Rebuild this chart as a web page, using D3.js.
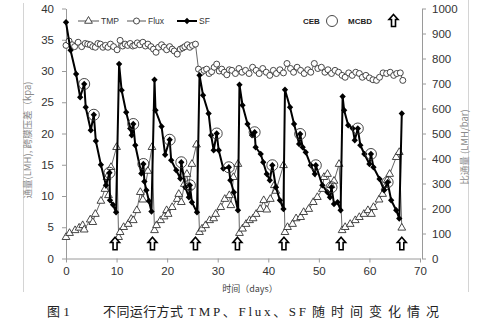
<!DOCTYPE html>
<html><head><meta charset="utf-8">
<script src="https://cdn.jsdelivr.net/npm/d3@7"></script>
<style>body{margin:0;background:#fff}svg{display:block}</style>
</head><body><svg id="c" width="491" height="322"></svg>
<script>
// ---------- DATA ----------
const xTicks = [0,10,20,30,40,50,60,70];
const yLeftTicks = [0,5,10,15,20,25,30,35,40];
const yRightTicks = [0,100,200,300,400,500,600,700,800,900,1000];

// TMP (kpa, left axis)
const tmpDays = [0.0,0.7,1.8,2.6,3.3,3.6,4.8,5.3,5.8,6.9,7.7,8.1,8.4,8.9,10.0,
 10.4,10.7,11.4,12.3,12.9,13.3,14.0,14.7,15.2,16.2,17.0,
 17.5,17.9,18.7,19.4,19.9,20.2,21.0,22.0,22.3,22.8,23.4,23.9,24.2,24.9,25.8,
 26.4,26.9,27.6,28.4,29.2,29.6,30.6,31.4,32.3,32.6,33.1,34.0,
 34.3,34.9,35.6,36.3,37.0,37.6,38.4,39.1,39.7,40.4,41.2,41.5,43.0,
 43.3,43.8,44.8,45.5,46.4,47.0,48.0,48.9,49.7,50.7,51.0,51.7,52.4,53.0,54.0,
 54.6,55.2,56.2,57.2,58.0,58.9,59.7,60.4,60.8,61.9,62.6,63.1,63.5,64.0,65.3,65.9,66.4];
const tmpValues = [3.4,4.05,4.5,4.9,5.3,4.6,6.2,5.8,7.1,9.2,11.1,13.0,10.1,14.6,17.8,
 3.4,4.2,5.0,5.5,6.3,6.1,7.7,10.6,9.4,14.0,17.8,
 4.5,5.3,6.1,6.7,7.7,7.1,8.2,9.5,10.3,9.0,11.9,13.5,11.4,15.1,18.2,
 4.2,4.75,5.3,6.1,6.4,7.1,8.2,9.5,10.1,8.5,13.0,15.1,
 4.05,4.75,5.5,6.1,6.4,7.1,7.9,9.3,7.8,9.5,11.7,10.8,14.9,
 4.2,5.0,5.5,6.4,6.6,7.4,7.9,9.0,9.8,11.1,13.0,13.5,11.7,12.4,15.1,
 4.5,5.0,5.5,6.1,6.6,7.1,7.7,7.1,8.2,9.4,10.3,11.4,12.5,13.5,16.2,17.0,4.9];

// Flux (LMH, left axis)
const fluxDays = [0.0,0.6,1.2,1.7,2.4,3.1,3.8,4.3,4.8,5.3,5.8,6.3,6.8,7.3,7.8,8.3,8.8,9.4,10.1,
 10.7,11.2,11.7,12.2,12.7,13.2,13.6,14.1,14.6,15.2,15.7,16.2,16.8,17.3,17.8,18.3,18.9,19.4,19.9,
 20.5,21.0,21.4,22.0,22.6,23.1,23.5,24.0,24.5,25.0,25.6,
 26.2,26.8,27.3,27.8,28.3,28.8,29.3,29.8,30.3,30.8,31.3,31.8,32.3,
 32.8,33.5,34.2,34.8,35.5,36.2,36.9,37.6,38.2,38.9,39.6,40.3,41.0,41.6,42.3,43.0,43.7,44.4,
 45.0,45.7,46.4,47.1,47.8,48.4,49.1,49.8,50.5,51.2,51.8,52.5,53.2,53.9,54.6,55.2,55.9,56.6,
 57.3,58.0,58.6,59.3,60.0,60.7,61.4,62.0,62.7,63.4,64.1,64.8,65.4,66.1,66.6];
const fluxValues = [34.1,34.8,34.2,33.9,34.6,33.9,34.4,34.3,34.2,33.9,33.8,34.4,34.3,33.8,34.1,33.8,34.3,33.9,33.4,
 34.9,34.0,34.3,34.1,34.4,34.0,34.1,34.5,34.2,34.6,34.0,34.3,33.9,33.5,33.0,33.8,34.2,33.8,33.4,
 33.9,33.5,33.2,32.7,33.5,33.7,33.9,34.2,33.8,34.1,34.3,
 30.3,29.8,30.1,30.3,29.6,29.9,30.6,31.1,30.0,30.3,29.8,29.4,30.2,
 30.1,29.6,30.4,29.8,30.1,29.6,30.6,30.1,29.6,30.4,29.8,29.3,30.1,29.6,30.2,29.7,31.2,30.4,
 29.8,30.6,30.1,29.6,30.2,29.8,31.2,30.4,30.6,29.8,30.2,29.6,30.1,29.8,29.3,29.0,29.7,29.3,
 29.8,29.6,29.0,29.3,28.9,28.6,28.5,29.0,29.7,29.6,29.8,29.3,29.6,29.7,28.5];

// SF (LMH/bar, right axis)
const sfDays = [0.0,0.9,2.0,2.8,3.6,3.9,4.9,5.5,5.9,6.9,7.9,8.6,8.7,9.3,9.9,
 10.5,11.0,11.9,12.7,13.0,13.3,13.7,14.9,15.3,15.5,15.9,16.4,16.9,
 17.5,17.7,18.9,19.6,20.5,20.8,21.8,22.6,22.8,23.6,24.3,24.5,24.9,25.9,
 26.4,27.1,28.2,28.7,29.2,29.8,30.2,31.1,32.2,32.5,33.2,34.0,
 34.3,34.9,35.9,36.8,37.3,37.5,38.5,39.0,39.7,40.3,40.8,41.5,42.3,43.0,
 43.3,44.3,45.1,46.1,46.3,46.8,47.4,48.4,49.2,49.4,50.7,51.7,52.2,52.5,53.0,53.7,54.3,
 54.7,55.0,55.8,56.7,57.1,57.7,58.2,59.0,60.0,60.3,60.8,62.0,62.9,63.6,64.3,65.3,65.9,66.4];
const sfValues = [945,833,738,645,698,605,513,575,470,375,293,343,233,215,185,
 778,673,585,520,493,538,453,340,378,308,273,230,188,
 715,593,528,415,475,393,353,320,385,285,245,293,225,185,
 733,653,580,493,433,500,433,360,365,313,265,193,
 695,613,538,493,505,445,418,385,338,313,373,285,233,198,
 675,605,538,458,498,445,425,373,338,373,293,265,245,285,218,225,193,
 648,593,533,520,473,520,453,418,378,418,365,318,273,305,233,193,160,580];

// CEB (chemically enhanced backwash) days, marked on SF
const cebDays = [3.6,5.5,8.6,13.3,15.3,20.5,22.8,24.5,29.8,32.2,37.3,40.8,46.3,49.4,52.5,57.7,60.3,63.6];
// MCBD days
const mcbdDays = [9.7,17.1,25.6,33.9,43.1,54.4,66.4];

// ---------- CHART ----------
const svg = d3.select("#c");
const x = d3.scaleLinear().domain([0,70]).range([66,420]);
const yL = d3.scaleLinear().domain([0,40]).range([258.5,8.5]);
const yR = d3.scaleLinear().domain([0,1000]).range([258.5,8.5]);
const FONT = "'Liberation Sans', Arial, sans-serif";
const axisCol = "#9a9a9a";

// frame lines
svg.append("line").attr("x1",23.5).attr("x2",23.5).attr("y1",3).attr("y2",292).attr("stroke","#d4d4d4");
svg.append("line").attr("x1",468.5).attr("x2",468.5).attr("y1",0).attr("y2",292).attr("stroke","#d4d4d4");

function styleAxis(g){
  g.selectAll(".domain").attr("stroke",axisCol);
  g.selectAll(".tick line").attr("stroke",axisCol);
  g.selectAll("text").attr("fill","#333").style("font-family",FONT).style("font-size","11.5px");
}
svg.append("g").attr("transform","translate(66,0)")
  .call(d3.axisLeft(yL).tickValues(yLeftTicks).tickSize(4).tickSizeOuter(0).tickPadding(8))
  .call(styleAxis);
svg.append("g").attr("transform","translate(422,0)")
  .call(d3.axisRight(yR).tickValues(yRightTicks).tickFormat(d3.format("d")).tickSize(4).tickSizeOuter(0).tickPadding(6))
  .call(styleAxis);
svg.append("g").attr("transform","translate(0,258.5)")
  .call(d3.axisBottom(x).tickValues(xTicks).tickSize(4).tickSizeOuter(0).tickPadding(4))
  .call(styleAxis);

// axis titles
svg.append("text").attr("transform","translate(31,140) rotate(-90)").attr("text-anchor","middle")
  .attr("fill","#8a8a8a").style("font-family","'Noto Sans CJK SC', sans-serif").style("font-size","9.5px")
  .text("通量(LMH), 跨膜压差（kpa)");
svg.append("text").attr("transform","translate(468,147) rotate(-90)").attr("text-anchor","middle")
  .attr("fill","#8a8a8a").style("font-family","'Noto Sans CJK SC', sans-serif").style("font-size","9.5px")
  .text("比通量 (LMH/bar)");
svg.append("text").attr("x",250).attr("y",292).attr("text-anchor","middle")
  .attr("fill","#444").style("font-family","'Noto Sans CJK SC', sans-serif").style("font-size","9px")
  .text("时间（days）");

// caption
const capFont = "'Liberation Serif', 'Noto Sans CJK SC', serif";
const cap = svg.append("g").attr("fill","#222").style("font-family",capFont).style("font-size","13px");
cap.append("text").attr("x",47).attr("y",316).text("图 1");
cap.append("text").attr("x",103).attr("y",316).attr("textLength",80).attr("lengthAdjust","spacing").text("不同运行方式");
cap.append("text").attr("x",188).attr("y",316).attr("textLength",118).attr("lengthAdjust","spacing").text("TMP、Flux、SF");
cap.append("text").attr("x",312).attr("y",316).attr("textLength",127).attr("lengthAdjust","spacing").text("随时间变化情况");

// Flux
const fluxPts = fluxDays.map((d,i)=>[d,fluxValues[i]]);
svg.append("path").datum(fluxPts).attr("fill","none").attr("stroke","#555").attr("stroke-width",0.9)
  .attr("d",d3.line().x(d=>x(d[0])).y(d=>yL(d[1])));
svg.append("g").selectAll("circle").data(fluxPts).join("circle")
  .attr("cx",d=>x(d[0])).attr("cy",d=>yL(d[1])).attr("r",3)
  .attr("fill","#fff").attr("stroke","#333").attr("stroke-width",0.9);

// TMP
const tmpPts = tmpDays.map((d,i)=>[d,tmpValues[i]]);
svg.append("path").datum(tmpPts).attr("fill","none").attr("stroke","#555").attr("stroke-width",0.9)
  .attr("d",d3.line().x(d=>x(d[0])).y(d=>yL(d[1])));
const tri = d3.symbol(d3.symbolTriangle, 26);
svg.append("g").selectAll("path").data(tmpPts).join("path")
  .attr("transform",d=>`translate(${x(d[0])},${yL(d[1])})`).attr("d",tri)
  .attr("fill","#fff").attr("stroke","#333").attr("stroke-width",0.9);

// SF
const sfPts = sfDays.map((d,i)=>[d,sfValues[i]]);
svg.append("path").datum(sfPts).attr("fill","none").attr("stroke","#000").attr("stroke-width",2)
  .attr("d",d3.line().x(d=>x(d[0])).y(d=>yR(d[1])));
const dia = d3.symbol(d3.symbolSquare, 20);
svg.append("g").selectAll("path").data(sfPts).join("path")
  .attr("transform",d=>`translate(${x(d[0])},${yR(d[1])}) rotate(45)`).attr("d",dia)
  .attr("fill","#000");

// CEB circles
const cebPts = cebDays.map(d=>{const i=sfDays.indexOf(d);return [d,sfValues[i]];});
svg.append("g").selectAll("circle").data(cebPts).join("circle")
  .attr("cx",d=>x(d[0])).attr("cy",d=>yR(d[1])).attr("r",5.5)
  .attr("fill","none").attr("stroke","#333").attr("stroke-width",0.9);

// MCBD arrows
function arrowPath(cx, top, h){
  const w = 9, sw = 4, hh = h*0.42;
  return `M${cx},${top} L${cx+w/2},${top+hh} L${cx+sw/2},${top+hh} L${cx+sw/2},${top+h} L${cx-sw/2},${top+h} L${cx-sw/2},${top+hh} L${cx-w/2},${top+hh} Z`;
}
svg.append("g").selectAll("path").data(mcbdDays).join("path")
  .attr("d",d=>arrowPath(x(d), yL(3.4), yL(1.4)-yL(3.4)))
  .attr("fill","#fff").attr("stroke","#000").attr("stroke-width",1.6).attr("stroke-linejoin","miter");

// Legend
const lg = svg.append("g").style("font-family",FONT).style("font-size","8.5px");
const ly = 21;
lg.append("line").attr("x1",78).attr("x2",99).attr("y1",ly).attr("y2",ly).attr("stroke","#555");
lg.append("path").attr("transform",`translate(88.5,${ly})`).attr("d",tri).attr("fill","#fff").attr("stroke","#333").attr("stroke-width",0.9);
lg.append("text").attr("x",101).attr("y",ly+3).attr("fill","#333").text("TMP");
lg.append("line").attr("x1",127).attr("x2",146).attr("y1",ly).attr("y2",ly).attr("stroke","#555");
lg.append("circle").attr("cx",136.5).attr("cy",ly).attr("r",3).attr("fill","#fff").attr("stroke","#333").attr("stroke-width",0.9);
lg.append("text").attr("x",148).attr("y",ly+3).attr("fill","#333").text("Flux");
lg.append("line").attr("x1",177).attr("x2",197).attr("y1",ly).attr("y2",ly).attr("stroke","#000").attr("stroke-width",2);
lg.append("path").attr("transform",`translate(187,${ly}) rotate(45)`).attr("d",dia).attr("fill","#000");
lg.append("text").attr("x",199).attr("y",ly+3).attr("fill","#333").text("SF");
lg.append("text").attr("x",303).attr("y",ly+3).attr("fill","#222").style("font-weight","bold").style("font-size","8px").text("CEB");
lg.append("circle").attr("cx",332).attr("cy",ly).attr("r",5.5).attr("fill","none").attr("stroke","#333").attr("stroke-width",0.9);
lg.append("text").attr("x",348).attr("y",ly+3).attr("fill","#222").style("font-weight","bold").style("font-size","8px").text("MCBD");
lg.append("path").attr("d",arrowPath(393.5,14.5,12)).attr("fill","#fff").attr("stroke","#000").attr("stroke-width",1.6);
</script></body></html>
